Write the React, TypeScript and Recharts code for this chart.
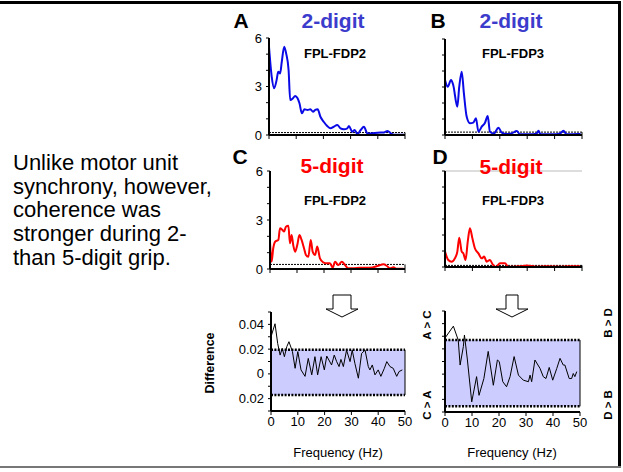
import React from 'react';
import { LineChart, Line, XAxis, YAxis, ReferenceLine, ReferenceArea } from 'recharts';

const FONT = '"Liberation Sans", Arial, Helvetica, sans-serif';

// coherence, 2-digit grip, FPL-FDP2 (panel A)
const freqA = [0, 1, 1.9, 2.8, 3.4, 4.1, 4.7, 5.6, 6.3, 7.2, 7.8, 8.8, 9.6, 10.5, 11.2, 12.1, 13, 14.2, 15.2, 16.2, 17, 17.9, 18.9, 20.1, 21.4, 22.6, 23.8, 25.1, 26.3, 27.5, 28.8, 29.4, 30.6, 31.5, 32.5, 33.7, 34.9, 36.2, 37.4, 39.9, 42.3, 43.6, 44.8, 46, 48.5, 49.7];
const cohA = [5.46, 3.6, 2.89, 3.4, 3.91, 3.81, 4.53, 5.46, 5.05, 4.02, 2.16, 2.27, 2.41, 2.27, 1.96, 1.34, 1.59, 1.55, 1.59, 1.44, 1.55, 1.59, 1.13, 0.82, 0.56, 0.41, 0.51, 0.62, 0.41, 0.35, 0.41, 0.56, 0.2, 0.31, 0.06, 0.31, 0.51, 0.1, 0.1, 0.14, 0.16, 0.25, 0.1, 0.02, 0.02, 0.02];

// coherence, 2-digit grip, FPL-FDP3 (panel B)
const freqB = [0, 1, 2.2, 3, 4.5, 5.2, 6.1, 6.9, 7.9, 9.1, 10.3, 11.3, 12.2, 13.4, 14.6, 15.6, 16.4, 17.9, 19.5, 20.7, 22.5, 24.3, 26.2, 27.4, 31, 33.5, 34.1, 34.9, 39.5, 42, 43.2, 44.4, 48.7, 49.5];
const cohB = [3.44, 3.02, 3.44, 3.13, 1.77, 3.02, 3.96, 2.6, 1.15, 0.73, 0.77, 1.04, 0.21, 0.52, 0.77, 1.19, 0.21, 0.1, 0.46, 0.15, 0.06, 0.1, 0.25, 0.04, 0.04, 0.1, 0.27, 0.04, 0.04, 0.1, 0.27, 0.04, 0.06, 0.06];

// coherence, 5-digit grip, FPL-FDP2 (panel C)
const freqC = [0, 0.6, 1.2, 1.9, 3.1, 3.7, 4.6, 5.2, 5.9, 6.8, 7.4, 8, 8.6, 9.3, 10.1, 10.9, 11.7, 12.6, 13.3, 14.2, 15.1, 15.8, 16.7, 17.5, 18.5, 19.7, 21, 22.2, 23.2, 24.1, 25.3, 26.6, 27.8, 29, 30.9, 33.3, 37, 40.1, 42, 43.2, 44.4, 45.7, 46.9, 49.4];
const cohC = [1.67, 0.45, 1.27, 1.67, 1.78, 2.49, 2.39, 2.29, 2.59, 2.65, 1.57, 2.08, 1.47, 1.06, 1.47, 2.08, 1.78, 1.27, 0.86, 0.75, 1.78, 1.06, 0.86, 1.37, 0.65, 0.41, 0.35, 0.35, 0.08, 0.45, 0.24, 0.45, 0.24, 0.04, 0.04, 0.08, 0.08, 0.2, 0.29, 0.2, 0.04, 0.1, 0.02, 0.02];

// coherence, 5-digit grip, FPL-FDP3 (panel D)
const freqD = [0, 1.2, 2.4, 3.6, 4.5, 5.2, 6.1, 6.7, 7.5, 8.3, 9.1, 10, 10.9, 12.2, 13.4, 14.3, 15.2, 16.4, 17.4, 18.6, 20.1, 21.9, 23.1, 24.9, 27.4, 29.8, 33.5, 37.1, 42, 45.6, 49.3];
const cohD = [0.96, 0.44, 0.33, 0.54, 0.96, 1.83, 0.96, 0.85, 0.44, 1.58, 2.42, 1.79, 1.17, 0.85, 0.54, 0.65, 0.33, 0.44, 0.17, 0.0, 0.23, 0.23, 0.02, 0.02, 0.04, 0.1, 0.02, 0.04, 0.02, 0.04, 0.04];

// difference A - C
const freqAC = [0, 1.5, 2.5, 3.4, 4.2, 5, 5.9, 6.7, 8, 9, 10, 11.2, 12.7, 13.9, 15.2, 16.4, 17.4, 18.7, 19.9, 20.8, 21.6, 22.6, 23.6, 24.5, 25.4, 26.1, 27, 28.2, 29.5, 30.3, 31.3, 32.6, 33.8, 35.1, 36.3, 36.9, 37.8, 38.8, 40, 41, 42.3, 43.2, 44.4, 45.6, 46.9, 47.8, 49];
const diffAC = [0.03, 0.0405, 0.0245, 0.0152, 0.0205, 0.0139, 0.022, 0.026, 0.018, 0.0045, 0.018, 0.0032, -0.002, 0.0125, -0.0008, 0.0139, -0.0008, 0.0139, 0.0032, 0.0144, 0.0112, 0.0072, 0.0152, 0.0099, 0.0059, 0.0117, 0.0059, 0.0192, 0.0099, 0.0192, 0.0085, -0.0035, 0.0165, 0.0192, 0.0059, 0.0032, 0.0072, -0.0008, 0.0032, -0.002, 0.0045, 0.0099, 0.0059, 0.0045, -0.002, 0.0019, 0.0032];
const limitsAC = [-0.017, 0.0195];

// difference B - D
const freqBD = [0, 3.1, 4.9, 5.6, 6.8, 7.2, 8.3, 9.9, 11.7, 12.6, 14.4, 16, 17.9, 19.4, 20.1, 21.4, 22.8, 24.1, 25.6, 27.2, 29, 30.9, 31.5, 32.1, 33.3, 35.2, 36.4, 37.4, 38.6, 39.9, 41.4, 42.6, 43.8, 44.4, 46, 46.9, 47.5, 48.1, 48.8];
const diffBD = [0.0286, 0.038, 0.027, 0.0072, 0.0219, 0.031, 0.0112, -0.022, -0.002, -0.0168, -0.0035, 0.018, -0.0088, 0.0112, 0.0099, -0.006, -0.01, -0.002, 0.0139, -0.0008, -0.0048, -0.006, -0.0008, -0.006, 0.0112, 0.0045, -0.002, -0.0035, 0.0053, -0.0048, 0.0045, 0.0125, 0.0072, 0.0072, -0.0035, -0.0035, 0.0005, -0.002, 0.002];
const limitsBD = [-0.0255, 0.027];

const freqTicks = [0, 10, 20, 30, 40, 50];
const cohTicks = [0, 1, 2, 3, 4, 5, 6];
const diffTicks = [-0.03, -0.02, -0.01, 0, 0.01, 0.02, 0.03, 0.04, 0.05];

const toRows = (f: number[], v: number[]) => f.map((x, i) => ({ f: x, v: v[i] }));

const YW = 40;
const XH = 26;
const MT = 6;
const MR = 14;

type PanelProps = {
  x: number; y: number; w: number; h: number;
  rows: { f: number; v: number }[];
  stroke: string; strokeWidth: number; curve: 'monotone' | 'linear';
  yDomain: [number, number]; yTicks: number[];
  yFmt: (v: number) => string; xLabels: boolean;
  children?: React.ReactNode;
};

function Panel({ x, y, w, h, rows, stroke, strokeWidth, curve, yDomain, yTicks, yFmt, xLabels, children }: PanelProps) {
  const tickStyle = { fill: '#000', fontSize: 13, fontFamily: FONT };
  return (
    <div style={{ position: 'absolute', left: x - YW, top: y - MT }}>
      <LineChart width={YW + w + MR} height={MT + h + XH} data={rows}
        margin={{ top: MT, right: MR, bottom: 0, left: 0 }} style={{ overflow: 'visible' }}>
        {children}
        <XAxis type="number" dataKey="f" domain={[0, 50]} ticks={freqTicks} interval={0} allowDataOverflow
          height={XH} axisLine={{ stroke: '#000', strokeWidth: 2 }} tickLine={{ stroke: '#000', strokeWidth: 1 }}
          tickSize={4} tickMargin={2} tick={tickStyle} tickFormatter={(v: number) => (xLabels ? String(v) : '')} />
        <YAxis type="number" domain={yDomain} ticks={yTicks} interval={0} allowDataOverflow width={YW}
          axisLine={{ stroke: '#000', strokeWidth: 2 }} tickLine={{ stroke: '#000', strokeWidth: 1 }}
          tickSize={3} tickMargin={4} tick={tickStyle} tickFormatter={yFmt} />
        <Line type={curve} dataKey="v" stroke={stroke} strokeWidth={strokeWidth} dot={false} isAnimationActive={false} />
      </LineChart>
    </div>
  );
}

const cohLabels = (v: number) => (v % 3 === 0 ? String(v) : '');
const noLabels = () => '';
const diffLabels = (v: number) => {
  const r = Math.round(v * 100) / 100;
  if (r === 0) return '0';
  if (Math.abs(r) === 0.02 || r === 0.04) return Math.abs(r).toFixed(2);
  return '';
};

function Significance({ level }: { level: number }) {
  return (
    <>
      <ReferenceLine y={level} stroke="#000" strokeWidth={1} strokeDasharray="2 1" />
      <ReferenceLine segment={[{ x: 50, y: 0 }, { x: 50, y: level }]} stroke="#000" strokeWidth={1} />
    </>
  );
}

function Band({ limits }: { limits: number[] }) {
  return (
    <>
      <ReferenceArea x1={0} x2={50} y1={limits[0]} y2={limits[1]} fill="#ccccff" fillOpacity={1} stroke="none" />
      <ReferenceLine y={limits[1]} stroke="#000" strokeWidth={2.5} strokeDasharray="2 1.4" />
      <ReferenceLine y={limits[0]} stroke="#000" strokeWidth={2.5} strokeDasharray="2 1.4" />
      <ReferenceLine segment={[{ x: 50, y: limits[0] }, { x: 50, y: limits[1] }]} stroke="#000" strokeWidth={1} />
    </>
  );
}

const BLUE = '#0a0ae6';
const RED = '#ff0000';
const TITLE_BLUE = '#3c3ccc';

function Arrow({ cx, top, shaft, head }: { cx: number; top: number; shaft: number; head: number }) {
  const pts = [
    [cx - shaft, top], [cx + shaft, top], [cx + shaft, top + 14], [cx + head, top + 14],
    [cx, top + 22], [cx - head, top + 14], [cx - shaft, top + 14],
  ].map((p) => p.join(',')).join(' ');
  return <polygon points={pts} fill="#fff" stroke="#000" strokeWidth={1} />;
}

export default function App() {
  const bold = { fontFamily: FONT, fontWeight: 700 };
  return (
    <div style={{ position: 'absolute', left: 0, top: 0, width: 623, height: 472, background: '#fff', overflow: 'hidden' }}>
      <Panel x={269} y={38} w={136} h={97} rows={toRows(freqA, cohA)} stroke={BLUE} strokeWidth={2} curve="monotone"
        yDomain={[0, 6]} yTicks={cohTicks} yFmt={cohLabels} xLabels={false}>
        <Significance level={0.15} />
      </Panel>
      <Panel x={445} y={39} w={137} h={96} rows={toRows(freqB, cohB)} stroke={BLUE} strokeWidth={2} curve="monotone"
        yDomain={[0, 6]} yTicks={cohTicks} yFmt={noLabels} xLabels={false}>
        <Significance level={0.18} />
      </Panel>
      <Panel x={270} y={171} w={135} h={98} rows={toRows(freqC, cohC)} stroke={RED} strokeWidth={2} curve="monotone"
        yDomain={[0, 6]} yTicks={cohTicks} yFmt={cohLabels} xLabels={false}>
        <Significance level={0.28} />
      </Panel>
      <Panel x={445} y={171} w={137} h={96} rows={toRows(freqD, cohD)} stroke={RED} strokeWidth={2} curve="monotone"
        yDomain={[0, 6]} yTicks={cohTicks} yFmt={noLabels} xLabels={false}>
        <ReferenceLine y={6} stroke="#bbbbbb" strokeWidth={1} />
        <Significance level={0.1} />
      </Panel>
      <Panel x={271} y={312} w={134} h={99} rows={toRows(freqAC, diffAC)} stroke="#000" strokeWidth={1} curve="linear"
        yDomain={[-0.03, 0.05]} yTicks={diffTicks} yFmt={diffLabels} xLabels={true}>
        <Band limits={limitsAC} />
      </Panel>
      <Panel x={445} y={311} w={135} h={101} rows={toRows(freqBD, diffBD)} stroke="#000" strokeWidth={1} curve="linear"
        yDomain={[-0.03, 0.05]} yTicks={diffTicks} yFmt={noLabels} xLabels={true}>
        <Band limits={limitsBD} />
      </Panel>

      <svg width={623} height={472} style={{ position: 'absolute', left: 0, top: 0, pointerEvents: 'none' }}>
        {/* frame */}
        <rect x={0} y={1} width={621} height={3} fill="#000" />
        <rect x={618} y={1} width={3} height={467} fill="#000" />
        <rect x={0} y={466} width={621} height={2} fill="#777" />

        {/* panel titles */}
        <text x={241} y={28} textAnchor="middle" fontSize={21} {...bold}>A</text>
        <text x={333} y={28} textAnchor="middle" fontSize={21} fill={TITLE_BLUE} {...bold}>2-digit</text>
        <text x={335} y={58} textAnchor="middle" fontSize={13} {...bold}>FPL-FDP2</text>
        <text x={438} y={28} textAnchor="middle" fontSize={21} {...bold}>B</text>
        <text x={511} y={28} textAnchor="middle" fontSize={21} fill={TITLE_BLUE} {...bold}>2-digit</text>
        <text x={513} y={58} textAnchor="middle" fontSize={13} {...bold}>FPL-FDP3</text>
        <text x={240} y={164} textAnchor="middle" fontSize={21} {...bold}>C</text>
        <text x={332} y={173} textAnchor="middle" fontSize={21} fill={RED} {...bold}>5-digit</text>
        <text x={335} y={205} textAnchor="middle" fontSize={13} {...bold}>FPL-FDP2</text>
        <text x={440} y={164} textAnchor="middle" fontSize={21} {...bold}>D</text>
        <text x={511} y={174} textAnchor="middle" fontSize={21} fill={RED} {...bold}>5-digit</text>
        <text x={513} y={205} textAnchor="middle" fontSize={13} {...bold}>FPL-FDP3</text>

        {/* arrows */}
        <Arrow cx={342} top={295} shaft={9} head={16} />
        <Arrow cx={512} top={295} shaft={6} head={16} />

        {/* axis titles */}
        <text transform="translate(214,363) rotate(-90)" textAnchor="middle" fontSize={12.5} {...bold}>Difference</text>
        <text x={338} y={457} textAnchor="middle" fontSize={13} fontFamily={FONT}>Frequency (Hz)</text>
        <text x={512} y={457} textAnchor="middle" fontSize={13} fontFamily={FONT}>Frequency (Hz)</text>
        <text transform="translate(431,325) rotate(-90)" textAnchor="middle" fontSize={11.5} {...bold}>A &gt; C</text>
        <text transform="translate(431,405) rotate(-90)" textAnchor="middle" fontSize={11.5} {...bold}>C &gt; A</text>
        <text transform="translate(612,323) rotate(-90)" textAnchor="middle" fontSize={11.5} {...bold}>B &gt; D</text>
        <text transform="translate(612,405) rotate(-90)" textAnchor="middle" fontSize={11.5} {...bold}>D &gt; B</text>

        {/* slide text */}
        <text fontSize={22} fontFamily={FONT} fill="#000">
          <tspan x={13} y={170}>Unlike motor unit</tspan>
          <tspan x={13} y={193.7}>synchrony, however,</tspan>
          <tspan x={13} y={217.4}>coherence was</tspan>
          <tspan x={13} y={241.1}>stronger during 2-</tspan>
          <tspan x={13} y={264.8}>than 5-digit grip.</tspan>
        </text>
      </svg>
    </div>
  );
}
